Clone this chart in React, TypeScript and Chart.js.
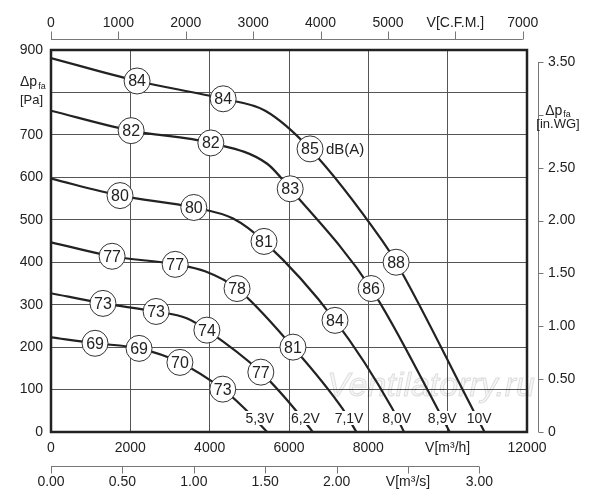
import React, { useEffect, useRef } from 'react';
import { Chart, registerables } from 'chart.js';

Chart.register(...registerables);

const FONT = '"Liberation Sans", Arial, Helvetica, sans-serif';
const PA_PER_INWG = 249.089;
const CFM_PER_M3H = 0.588578;
const M3H_PER_M3S = 3600;

const flowMax = 12000; // m3/h
const paMax = 900;

const flowTicks = [0, 2000, 4000, 6000, 8000, 10000, 12000];
const paTicks = [0, 100, 200, 300, 400, 500, 600, 700, 800, 900];
const cfmTicks = [0, 1000, 2000, 3000, 4000, 5000, 6000, 7000];
const m3sTicks = [0, 0.5, 1, 1.5, 2, 2.5, 3];
const inwgTicks = [0, 0.5, 1, 1.5, 2, 2.5, 3, 3.5];

const voltLabels = ['5,3V', '6,2V', '7,1V', '8,0V', '8,9V', '10V'];

const v53Flow = [0, 1110, 2220, 3250, 4330, 4840, 5450];
const v53Pa = [223, 209, 197, 164, 101, 59, 0];
const v53dB = [null, 69, 69, 70, 73, null, null];

const v62Flow = [0, 1310, 2650, 3420, 3930, 5290, 6100, 6600];
const v62Pa = [327, 303, 284, 268, 240, 141, 59, 0];
const v62dB = [null, 73, 73, null, 74, 77, null, null];

const v71Flow = [0, 1540, 3130, 3900, 4690, 6100, 7340, 7700];
const v71Pa = [447, 414, 395, 378, 338, 200, 56, 0];
const v71dB = [null, 77, 77, null, 78, 81, null, null];

const v80Flow = [0, 1740, 3600, 4590, 5370, 7160, 8600, 8900];
const v80Pa = [597, 557, 529, 503, 449, 263, 56, 0];
const v80dB = [null, 80, 80, null, 81, 84, null, null];

const v89Flow = [0, 2020, 4030, 5450, 6030, 8070, 9760, 10050];
const v89Pa = [757, 710, 681, 632, 573, 338, 52, 0];
const v89dB = [null, 82, 82, null, 83, 86, null, null];

const v10Flow = [0, 2170, 4340, 5400, 6530, 8350, 8700, 10640, 10930];
const v10Pa = [881, 827, 785, 757, 667, 451, 400, 52, 0];
const v10dB = [null, 84, 84, null, 85, null, 88, null, null];

const curves = [
  { flow: v53Flow, pa: v53Pa, db: v53dB },
  { flow: v62Flow, pa: v62Pa, db: v62dB },
  { flow: v71Flow, pa: v71Pa, db: v71dB },
  { flow: v80Flow, pa: v80Pa, db: v80dB },
  { flow: v89Flow, pa: v89Pa, db: v89dB },
  { flow: v10Flow, pa: v10Pa, db: v10dB },
];

const unitLabelDB = 'dB(A)';
const watermark = 'Ventilatorry.ru';

function drawDeltaP(ctx: CanvasRenderingContext2D, x: number, y: number, align: 'left' | 'center') {
  ctx.save();
  ctx.fillStyle = '#222';
  ctx.textBaseline = 'middle';
  ctx.font = `14px ${FONT}`;
  const w1 = ctx.measureText('Δp').width;
  ctx.font = `9px ${FONT}`;
  const w2 = ctx.measureText('fa').width;
  const total = w1 + w2 + 1;
  const x0 = align === 'left' ? x : x - total / 2;
  ctx.textAlign = 'left';
  ctx.font = `14px ${FONT}`;
  ctx.fillText('Δp', x0, y);
  ctx.font = `9px ${FONT}`;
  ctx.fillText('fa', x0 + w1 + 1, y + 4);
  ctx.restore();
}

const setTicks = (arr: number[]) => (s: any) => {
  s.ticks = arr.map((value) => ({ value }));
};

const decor = {
  id: 'decor',
  beforeDatasetsDraw(chart: any) {
    const { ctx, chartArea } = chart;
    ctx.save();
    ctx.font = `italic 34px ${FONT}`;
    ctx.textAlign = 'right';
    ctx.textBaseline = 'middle';
    ctx.fillStyle = 'rgba(0,0,0,0.035)';
    ctx.strokeStyle = 'rgba(0,0,0,0.13)';
    ctx.lineWidth = 1;
    const wx = chartArea.right + 8;
    const wy = chartArea.bottom - 45;
    ctx.fillText(watermark, wx, wy);
    ctx.strokeText(watermark, wx, wy);
    ctx.restore();
  },
  afterDatasetsDraw(chart: any) {
    const { ctx, chartArea, scales } = chart;
    const xS = scales.x;
    const yS = scales.y;
    ctx.save();

    // dB labels in circles
    chart.data.datasets.forEach((ds: any, i: number) => {
      if (!ds.isLabel) return;
      const meta = chart.getDatasetMeta(i);
      meta.data.forEach((pt: any, j: number) => {
        const v = ds.data[j].db;
        ctx.font = `16px ${FONT}`;
        ctx.fillStyle = '#222';
        ctx.textAlign = 'center';
        ctx.textBaseline = 'middle';
        ctx.fillText(String(v), pt.x, pt.y + 1);
        if (v === 85) {
          ctx.font = `15px ${FONT}`;
          ctx.textAlign = 'left';
          ctx.fillText(unitLabelDB, pt.x + 16, pt.y + 1);
        }
      });
    });

    // voltage labels at curve ends
    curves.forEach((c, i) => {
      const endQ = c.flow[c.flow.length - 1];
      const px = xS.getPixelForValue(endQ) + 7;
      const py = yS.getPixelForValue(0) - 14;
      ctx.font = `14px ${FONT}`;
      const w = ctx.measureText(voltLabels[i]).width;
      ctx.fillStyle = '#fff';
      ctx.fillRect(px - w - 1, py - 7, w + 2, 14);
      ctx.fillStyle = '#222';
      ctx.textAlign = 'right';
      ctx.textBaseline = 'middle';
      ctx.fillText(voltLabels[i], px, py + 1);
    });

    // frame
    ctx.strokeStyle = '#222';
    ctx.lineWidth = 2.5;
    ctx.strokeRect(chartArea.left, chartArea.top, chartArea.right - chartArea.left, chartArea.bottom - chartArea.top);

    // secondary axes lines & ticks
    ctx.strokeStyle = '#777';
    ctx.lineWidth = 1;
    const xc = scales.xc;
    const yTop = chartArea.top - 11 + 0.5;
    const cTicks = xc.ticks;
    ctx.beginPath();
    ctx.moveTo(xc.getPixelForValue(cTicks[0].value), yTop);
    ctx.lineTo(xc.getPixelForValue(cTicks[cTicks.length - 1].value), yTop);
    cTicks.forEach((t: any) => {
      const p = Math.round(xc.getPixelForValue(t.value)) + 0.5;
      ctx.moveTo(p, yTop);
      ctx.lineTo(p, yTop - 8);
    });
    ctx.stroke();

    const xs = scales.xs;
    const yBot = chartArea.bottom + 34 + 0.5;
    const sTicks = xs.ticks;
    ctx.beginPath();
    ctx.moveTo(xs.getPixelForValue(sTicks[0].value), yBot);
    ctx.lineTo(xs.getPixelForValue(sTicks[sTicks.length - 1].value), yBot);
    sTicks.forEach((t: any) => {
      const p = Math.round(xs.getPixelForValue(t.value)) + 0.5;
      ctx.moveTo(p, yBot);
      ctx.lineTo(p, yBot + 7);
    });
    ctx.stroke();

    const yw = scales.yw;
    const xR = chartArea.right + 11 + 0.5;
    const wTicks = yw.ticks;
    ctx.beginPath();
    ctx.moveTo(xR, yw.getPixelForValue(wTicks[0].value));
    ctx.lineTo(xR, yw.getPixelForValue(wTicks[wTicks.length - 1].value));
    wTicks.forEach((t: any) => {
      const p = Math.round(yw.getPixelForValue(t.value)) + 0.5;
      ctx.moveTo(xR, p);
      ctx.lineTo(xR + 5, p);
    });
    ctx.stroke();

    // axis titles
    const y800 = yS.getPixelForValue(800);
    drawDeltaP(ctx, chartArea.left - 31, y800 - 10, 'left');
    ctx.font = `13px ${FONT}`;
    ctx.fillStyle = '#222';
    ctx.textAlign = 'left';
    ctx.textBaseline = 'middle';
    ctx.fillText('[Pa]', chartArea.left - 31, y800 + 8);

    const y3 = yw.getPixelForValue(3);
    const cx = chartArea.right + 31;
    drawDeltaP(ctx, cx, y3 - 4, 'center');
    ctx.font = `13px ${FONT}`;
    ctx.fillStyle = '#222';
    ctx.textAlign = 'center';
    ctx.textBaseline = 'middle';
    ctx.fillText('[in.WG]', cx, y3 + 10);

    ctx.restore();
  },
};

const near = (a: number, b: number) => Math.abs(a - b) < 1e-6;

export default function App() {
  const ref = useRef<HTMLCanvasElement>(null);

  useEffect(() => {
    if (!ref.current) return;
    const tickFont = { family: FONT, size: 14 };
    const lineSets = curves.map((c) => ({
      isLabel: false,
      data: c.flow.map((x, i) => ({ x, y: c.pa[i] })),
      borderColor: '#222',
      borderWidth: 2.2,
      pointRadius: 0,
      fill: false,
      cubicInterpolationMode: 'monotone',
      order: 2,
    }));
    const labelSets = curves.map((c) => ({
      isLabel: true,
      data: c.flow
        .map((x, i) => ({ x, y: c.pa[i], db: c.db[i] }))
        .filter((p) => p.db !== null),
      showLine: false,
      pointRadius: 13,
      pointBackgroundColor: '#fff',
      pointBorderColor: '#333',
      pointBorderWidth: 1,
      order: 1,
    }));

    const chart = new Chart(ref.current, {
      type: 'line',
      data: { datasets: [...labelSets, ...lineSets] as any },
      options: {
        animation: false,
        responsive: false,
        events: [],
        layout: { padding: 0 },
        plugins: { legend: { display: false }, tooltip: { enabled: false } },
        scales: {
          x: {
            type: 'linear',
            position: 'bottom',
            min: 0,
            max: flowMax,
            weight: 0,
            afterBuildTicks: setTicks(flowTicks),
            ticks: {
              padding: 8,
              color: '#222',
              font: tickFont,
              maxRotation: 0,
              autoSkip: false,
              callback: (v: any) => (v === 10000 ? 'V[m³/h]' : String(v)),
            },
            grid: { color: '#555', lineWidth: 1, drawTicks: false },
            border: { display: false },
            afterFit: (s: any) => {
              s.height = 34;
            },
          },
          xs: {
            type: 'linear',
            position: 'bottom',
            min: 0,
            max: flowMax / M3H_PER_M3S,
            weight: 1,
            afterBuildTicks: setTicks(m3sTicks),
            ticks: {
              padding: 8,
              color: '#222',
              font: tickFont,
              maxRotation: 0,
              autoSkip: false,
              callback: (v: any) => (near(v, 2.5) ? 'V[m³/s]' : Number(v).toFixed(2)),
            },
            grid: { display: false, drawTicks: false },
            border: { display: false },
            afterFit: (s: any) => {
              s.height = 34;
            },
          },
          xc: {
            type: 'linear',
            position: 'top',
            min: 0,
            max: flowMax * CFM_PER_M3H,
            afterBuildTicks: setTicks(cfmTicks),
            ticks: {
              padding: 18,
              color: '#222',
              font: tickFont,
              maxRotation: 0,
              autoSkip: false,
              callback: (v: any) => (v === 6000 ? 'V[C.F.M.]' : String(v)),
            },
            grid: { display: false, drawTicks: false },
            border: { display: false },
            afterFit: (s: any) => {
              s.height = 50;
            },
          },
          y: {
            type: 'linear',
            position: 'left',
            min: 0,
            max: paMax,
            afterBuildTicks: setTicks(paTicks),
            ticks: {
              padding: 8,
              color: '#222',
              font: tickFont,
              autoSkip: false,
              callback: (v: any) => (v === 800 ? '' : String(v)),
            },
            grid: { color: '#555', lineWidth: 1, drawTicks: false },
            border: { display: false },
            afterFit: (s: any) => {
              s.width = 51;
            },
          },
          yw: {
            type: 'linear',
            position: 'right',
            min: 0,
            max: paMax / PA_PER_INWG,
            afterBuildTicks: setTicks(inwgTicks),
            ticks: {
              padding: 21,
              color: '#222',
              font: tickFont,
              autoSkip: false,
              callback: (v: any) => (near(v, 0) ? '0' : near(v, 3) ? '' : Number(v).toFixed(2)),
            },
            grid: { display: false, drawTicks: false },
            border: { display: false },
            afterFit: (s: any) => {
              s.width = 73;
            },
          },
        },
      } as any,
      plugins: [decor],
    });
    return () => chart.destroy();
  }, []);

  return (
    <div style={{ position: 'absolute', left: 0, top: 0, width: 600, height: 500, background: '#fff' }}>
      <canvas ref={ref} width={600} height={500} />
    </div>
  );
}
